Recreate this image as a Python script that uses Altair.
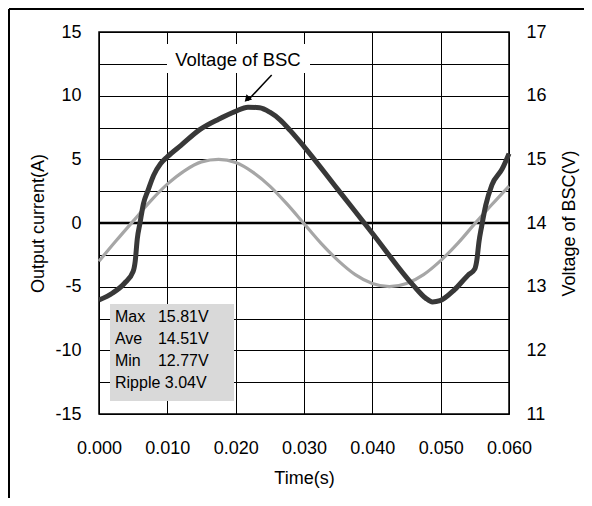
import altair as alt
import pandas as pd

FONT = "Liberation Sans"

# ---- data ----
cur_t = [0.0, 0.0025, 0.005, 0.0075, 0.01, 0.0125, 0.015, 0.0175, 0.02, 0.0225,
         0.025, 0.0275, 0.03, 0.0325, 0.035, 0.0375, 0.04, 0.0425, 0.045, 0.0475,
         0.05, 0.0525, 0.055, 0.0575, 0.06]
cur_a = [-3.0, -1.4, 0.15, 1.7, 3.05, 4.1, 4.8, 5.0, 4.75, 4.0,
         2.9, 1.5, -0.05, -1.6, -2.95, -4.05, -4.75, -5.0, -4.75, -4.05,
         -2.95, -1.6, -0.05, 1.45, 2.9]

volt_t = [0.0, 0.002, 0.0037, 0.005, 0.0053, 0.0056, 0.006, 0.0065, 0.0072, 0.008,
          0.009, 0.010, 0.012, 0.0148, 0.0175, 0.0199, 0.0218, 0.0235, 0.025, 0.0265,
          0.028, 0.030, 0.035, 0.040, 0.046, 0.0478, 0.0488, 0.0499, 0.052, 0.054,
          0.055, 0.0553, 0.0556, 0.056, 0.0566, 0.0575, 0.059, 0.060]
volt_v = [12.79, 12.90, 13.05, 13.24, 13.40, 13.75, 14.00, 14.30, 14.52, 14.75,
          14.93, 15.04, 15.22, 15.47, 15.63, 15.75, 15.82, 15.81, 15.74, 15.62,
          15.45, 15.20, 14.52, 13.84, 13.02, 12.82, 12.76, 12.78, 12.95, 13.18,
          13.28, 13.42, 13.70, 13.95, 14.28, 14.60, 14.85, 15.09]

x_ticks = [0.0, 0.01, 0.02, 0.03, 0.04, 0.05, 0.06]
left_ticks = [-15, -12.5, -10, -7.5, -5, -2.5, 0, 2.5, 5, 7.5, 10, 12.5, 15]
right_ticks = [11, 12, 13, 14, 15, 16, 17]

stats_names = ["Max", "Ave", "Min", "Ripple 3.04V"]
stats_vals = ["15.81V", "14.51V", "12.77V", ""]
stats_y = [-7.42, -9.11, -10.84, -12.53]

ann_text = "Voltage of BSC"

cur = pd.DataFrame({"t": cur_t, "a": cur_a})
volt = pd.DataFrame({"t": volt_t, "v": volt_v})
stats = pd.DataFrame({"name": stats_names, "val": stats_vals, "y": stats_y})

xscale = alt.Scale(domain=[0, 0.06], nice=False, zero=False)
lscale = alt.Scale(domain=[-15, 15], nice=False, zero=False)
rscale = alt.Scale(domain=[11, 17], nice=False, zero=False)

x_axis = alt.Axis(values=x_ticks, format=".3f", grid=True, gridColor="black",
                  gridWidth=1, gridOpacity=1, ticks=False, domain=False,
                  labelPadding=25, labelFontSize=18, labelFont=FONT,
                  labelColor="black", labelFlush=False, labelOverlap=False,
                  title="Time(s)", titleFont=FONT, titleFontSize=18,
                  titleFontWeight="normal", titleColor="black",
                  titleX=205, titleY=64, titleBaseline="middle", titleAlign="center")

l_axis = alt.Axis(values=left_ticks,
                  labelExpr="abs(datum.value % 5) < 0.01 ? '' + datum.value : ''",
                  grid=True, gridColor="black", gridWidth=1, gridOpacity=1,
                  ticks=False, domain=False, labelPadding=18, labelFontSize=18,
                  labelFont=FONT, labelColor="black", labelOverlap=False, labelBound=False,
                  title="Output current(A)", titleFont=FONT, titleFontSize=18,
                  titleFontWeight="normal", titleColor="black", titleAngle=270,
                  titleX=-61, titleY=191, titleBaseline="middle", titleAlign="center")

r_axis = alt.Axis(values=right_ticks, orient="right", grid=False, ticks=False,
                  domain=False, labelPadding=17, labelFontSize=18, labelFont=FONT,
                  labelColor="black", labelOverlap=False,
                  title="Voltage of BSC(V)", titleFont=FONT, titleFontSize=18,
                  titleFontWeight="normal", titleColor="black", titleAngle=270,
                  titleX=60, titleY=191, titleBaseline="middle", titleAlign="center")


def X(field):
    return alt.X(field, scale=xscale, axis=x_axis)


def YL(field):
    return alt.Y(field, scale=lscale, axis=l_axis)


zero = alt.Chart(pd.DataFrame({"y": [0]})).mark_rule(color="black", strokeWidth=2.6).encode(
    y=YL("y:Q"))

cur_line = alt.Chart(cur).mark_line(color="#a6a6a6", strokeWidth=3.2, interpolate="monotone").encode(
    x=X("t:Q"), y=YL("a:Q"))

box = alt.Chart(pd.DataFrame({"x1": [0.00161], "x2": [0.01976], "y1": [-6.36], "y2": [-13.98]})).mark_rect(
    color="#d9d9d9").encode(x=X("x1:Q"), x2="x2:Q", y=YL("y1:Q"), y2="y2:Q")

stat_names = alt.Chart(stats).transform_calculate(xx="0.00234").mark_text(
    font=FONT, fontSize=16, align="left", baseline="middle", color="black").encode(
    x=X("xx:Q"), y=YL("y:Q"), text="name:N")

stat_vals = alt.Chart(stats).transform_calculate(xx="0.00863").mark_text(
    font=FONT, fontSize=16, align="left", baseline="middle", color="black").encode(
    x=X("xx:Q"), y=YL("y:Q"), text="val:N")

ann_box = alt.Chart(pd.DataFrame({"x1": [0.00995], "x2": [0.03088], "y1": [14.06], "y2": [11.78]})).mark_rect(
    color="white").encode(x=X("x1:Q"), x2="x2:Q", y=YL("y1:Q"), y2="y2:Q")

ann = alt.Chart(pd.DataFrame({"x": [0.02034], "y": [12.8], "txt": [ann_text]})).mark_text(
    font=FONT, fontSize=18.5, align="center", baseline="middle", color="black").encode(
    x=X("x:Q"), y=YL("y:Q"), text="txt:N")

arrow = alt.Chart(pd.DataFrame({"x1": [0.02527], "y1": [11.62], "x2": [0.02176], "y2": [9.62]})).mark_rule(
    color="black", strokeWidth=1.5).encode(x=X("x1:Q"), x2="x2:Q", y=YL("y1:Q"), y2="y2:Q")

head = alt.Chart(pd.DataFrame({"x": [0.02166], "y": [9.72]})).mark_point(
    shape="triangle-up", filled=True, color="black", size=60, angle=223, opacity=1).encode(
    x=X("x:Q"), y=YL("y:Q"))

frame_left = alt.Chart(pd.DataFrame({"k": [0]})).mark_rule(color="black", strokeWidth=2).encode(
    x=alt.value(-90), y=alt.value(-23), y2=alt.value(466))
frame_top = alt.Chart(pd.DataFrame({"k": [0]})).mark_rule(color="black", strokeWidth=2).encode(
    x=alt.value(-90), x2=alt.value(485), y=alt.value(-23))

volt_line = alt.Chart(volt).mark_line(color="#383838", strokeWidth=5, interpolate="monotone").encode(
    x=X("t:Q"), y=alt.Y("v:Q", scale=rscale, axis=r_axis))

left = alt.layer(zero, cur_line, box, stat_names, stat_vals, ann_box, ann, arrow, head,
                 frame_left, frame_top)

chart = alt.layer(left, volt_line).resolve_scale(y="independent").properties(
    width=410, height=382,
    background="white",
    autosize=alt.AutoSizeParams(type="none"),
    padding={"left": 91, "top": 24, "right": 75, "bottom": 84},
).configure_view(stroke="black", strokeWidth=1.5)

chart.save("out.html", embed_options={"renderer": "svg", "actions": False})
